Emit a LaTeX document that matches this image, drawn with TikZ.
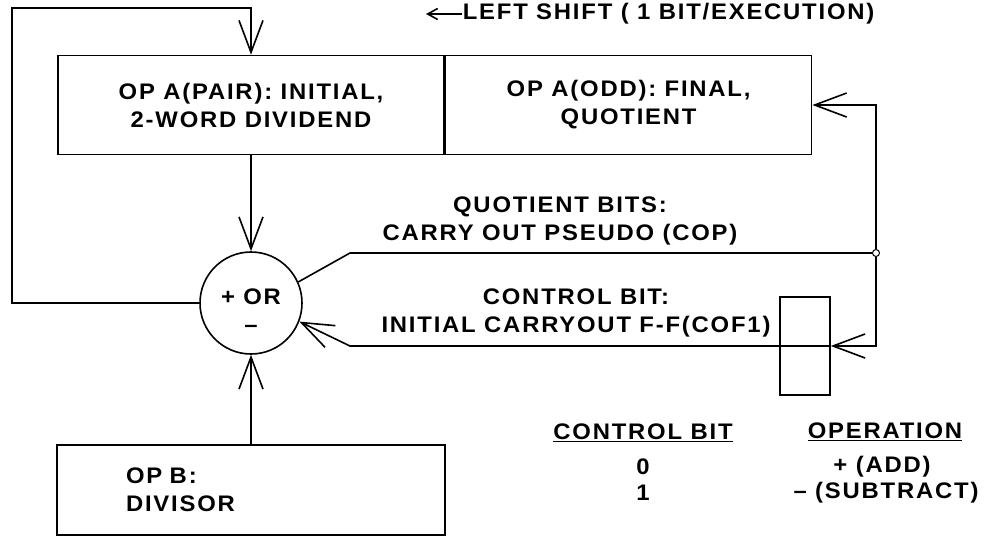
\documentclass[tikz,border=0pt]{standalone}
\usepackage{fontspec}
\setmainfont{Liberation Sans}[FakeStretch=1.06,LetterSpace=8]
\usetikzlibrary{arrows.meta,positioning}
\newcommand{\lbl}{\fontsize{22.5}{28}\selectfont\bfseries}

\begin{document}
\begin{tikzpicture}[
    x=1pt, y=-1pt,
    line width=1.6pt,
    box/.style={draw, rectangle, inner sep=0pt, align=center, font=\lbl},
    lab/.style={font=\lbl, align=center, inner sep=0pt},
    ar/.style={-{Straight Barb[length=32pt,width=24pt]}},
    sar/.style={-{Straight Barb[length=10pt,width=11pt]}}
]
\useasboundingbox (0,0) rectangle (995,544);

% registers and adder
\node[box, minimum width=386pt, minimum height=99pt] (paira) at (251,105)
     {OP A(PAIR): INITIAL,\\2-WORD DIVIDEND};
\node[box, minimum width=366pt, minimum height=99pt, anchor=west] (odda) at (paira.east)
     {OP A(ODD): FINAL,\\QUOTIENT};
\node[box, circle, minimum size=102pt, text height=58pt] (sum) at (251,303) {+ OR\\--};
\node[box, minimum height=90pt, text width=250pt, inner xsep=69pt, align=left] (opb) at (251,490)
     {OP B:\\DIVISOR};
\node[box, minimum width=50pt, minimum height=98pt] (ff) at (805,346) {};
\node[draw, circle, fill=white, inner sep=0pt, minimum size=7pt, line width=1pt] (tap) at (876,253) {};

% labels
\node[lab, anchor=west] (shift) at (462,14) {LEFT SHIFT ( 1 BIT/EXECUTION)};
\node[lab] (qlab) at (560,221) {QUOTIENT BITS:\\CARRY OUT PSEUDO (COP)};
\node[lab] (clab) at (576,313) {CONTROL BIT:\\INITIAL CARRYOUT F-F(COF1)};

% table
\node[lab] (ctlhd) at (643,433) {\underline{CONTROL BIT}};
\node[lab] (ophd)  at (885,432) {\underline{OPERATION}};
\node[lab] (zero)  at (643,467) {0};
\node[lab] (one)   at (643,493) {1};
\node[lab] (add)   at (882,467) {+ (ADD)};
\node[lab] (sub)   at (886,493) {-- (SUBTRACT)};

\coordinate (loopl) at (12,303);
\coordinate (loopt) at (12,8);
\coordinate (qbend) at (350,253);
\coordinate (cbend) at (350,346);
\coordinate (shiftend) at (426,14);

\draw[ar] (sum.west) -- (loopl) |- (loopt -| paira.north) -- (paira.north);
\draw[ar] (paira.south) -- (sum.north);
\draw[ar] (opb.north) -- (sum.south);
\draw (sum.24) -- (qbend) -- (tap.west);
\draw[ar] (tap.north) |- (odda.east);
\draw[ar] (tap.south) |- (ff.east);
\draw[ar] (ff.east) -- (cbend) -- (sum.-21);
\draw[sar] (shift.west) -- (shiftend);
\end{tikzpicture}
\end{document}
